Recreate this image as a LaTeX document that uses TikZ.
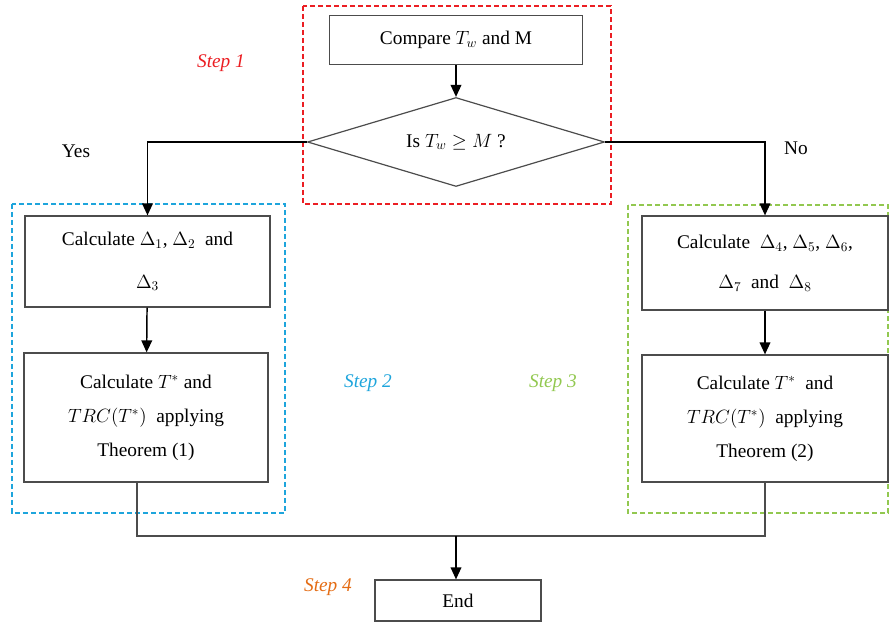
\documentclass[tikz,border=0pt]{standalone}
\usepackage{fontspec}
\setmainfont{Liberation Serif}
\usetikzlibrary{shapes.geometric,arrows.meta}
\definecolor{stepred}{RGB}{235,30,35}
\definecolor{stepblue}{RGB}{30,165,220}
\definecolor{stepgreen}{RGB}{146,200,80}
\definecolor{steporange}{RGB}{228,108,20}

\begin{document}
\begin{tikzpicture}[
        % Define styles
        x=0.75pt, y=-0.75pt,
        box/.style={draw=black!70, line width=0.9pt, rectangle, align=center, inner sep=2pt,
                    font=\fontsize{14.5}{25.5}\selectfont},
        decision/.style={draw=black!70, line width=0.9pt, diamond, aspect=3.34, inner sep=0pt,
                    font=\fontsize{14.5}{17}\selectfont},
        flow/.style={black, line width=1.1pt, -{Triangle[length=9pt, width=8pt]}},
        joiner/.style={black!70, line width=0.9pt},
        frame/.style={line width=1pt, dash pattern=on 4pt off 2pt},
        steplabel/.style={font=\fontsize{14.5}{17}\selectfont\itshape},
        answer/.style={font=\fontsize{14.5}{17}\selectfont}
    ]

        \useasboundingbox (0,0) rectangle (890,623);

        % --- Step frames ---
        \draw[frame, stepred] (303,6) rectangle (611,204);
        \draw[frame, stepblue] (12,204) rectangle (285,513);
        \draw[frame, stepgreen] (628,205) rectangle (888,513);

        % --- Nodes ---
        \node[box, minimum width=189.75pt, minimum height=36.75pt] (compare) at (456,40)
            {Compare $T_w$ and M};
        \node[decision, minimum width=222.75pt, minimum height=66.75pt] (check) at (456,142)
            {Is $T_w \geq M$ ?};

        % Left branch
        \node[box, minimum width=183.75pt, minimum height=68.25pt,
              font=\fontsize{14.5}{32}\selectfont] (deltaL) at (147.5,261.5)
            {Calculate $\Delta_1$, $\Delta_2$\ \ and\\ $\Delta_3$};
        \node[box, minimum width=183pt, minimum height=96.75pt] (theoL) at (146,417.5)
            {Calculate $T^{*}$ and\\ $TRC(T^{*})$\ \ applying\\ Theorem (1)};

        % Right branch
        \node[box, minimum width=184.5pt, minimum height=70.5pt,
              font=\fontsize{14.5}{30}\selectfont] (deltaR) at (765,263)
            {Calculate\ \ $\Delta_4$, $\Delta_5$, $\Delta_6$,\\ $\Delta_7$\ \ and\ \ $\Delta_8$};
        \node[box, minimum width=184.5pt, minimum height=95.25pt] (theoR) at (765,418.5)
            {Calculate\ $T^{*}$\ \ and\\ $TRC(T^{*})$\ \ applying\\ Theorem (2)};

        % End
        \node[box, minimum width=124.5pt, minimum height=30.75pt] (finish) at (458,600.5) {End};

        % --- Labels ---
        \node[steplabel, text=stepred] (step1) at (221,63) {Step 1};
        \node[steplabel, text=stepblue] (step2) at (368,383) {Step 2};
        \node[steplabel, text=stepgreen] (step3) at (553,383) {Step 3};
        \node[steplabel, text=steporange] (step4) at (328,587) {Step 4};
        \node[answer] (yes) at (76,151) {Yes};
        \node[answer] (no) at (796,148) {No};

        % --- Coordinates ---
        \coordinate (joinL) at (137,536);
        \coordinate (joinM) at (456,536);
        \coordinate (joinR) at (765,536);

        % --- Draw Edges ---
        \draw[flow] (compare) -- (check);
        \draw[flow] (check.west) -| (deltaL.north);
        \draw[flow] (check.east) -| (deltaR.north);
        \draw[flow] (deltaL) -- (theoL);
        \draw[flow] (deltaR) -- (theoR);
        \draw[joiner] (theoL.south -| joinL) -- (joinL) -- (joinR) -- (theoR.south);
        \draw[flow] (joinM) -- (finish.north -| joinM);

    \end{tikzpicture}
\end{document}
